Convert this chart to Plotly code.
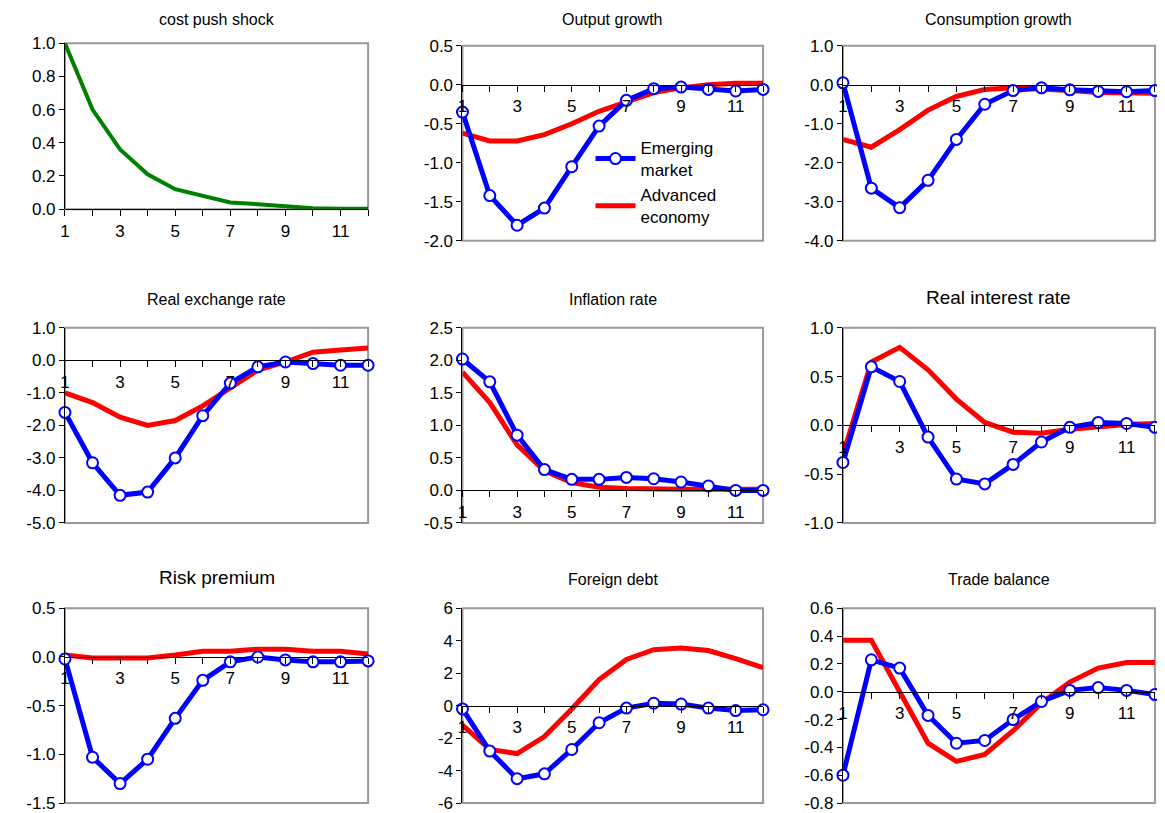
import plotly.graph_objects as go

periods = list(range(1, 13))
tick_text = [str(p) if p % 2 else "" for p in periods]

cost_push = [1.0, 0.6, 0.36, 0.21, 0.12, 0.08, 0.04, 0.03, 0.02, 0.005, 0.003, 0.002]

output_em = [-0.35, -1.42, -1.8, -1.58, -1.05, -0.53, -0.2, -0.05, -0.03, -0.06, -0.08, -0.06]
output_ae = [-0.62, -0.72, -0.72, -0.64, -0.5, -0.34, -0.22, -0.1, -0.04, 0.0, 0.02, 0.02]
cons_em = [0.05, -2.65, -3.15, -2.45, -1.4, -0.5, -0.15, -0.08, -0.13, -0.17, -0.18, -0.15]
cons_ae = [-1.4, -1.6, -1.15, -0.65, -0.3, -0.12, -0.08, -0.1, -0.15, -0.2, -0.22, -0.22]
rer_em = [-1.6, -3.15, -4.15, -4.05, -3.0, -1.7, -0.7, -0.2, -0.05, -0.1, -0.15, -0.15]
rer_ae = [-1.0, -1.3, -1.75, -2.0, -1.85, -1.4, -0.85, -0.3, -0.05, 0.25, 0.32, 0.38]
infl_em = [2.02, 1.67, 0.85, 0.32, 0.17, 0.17, 0.2, 0.18, 0.13, 0.07, 0.0, 0.0]
infl_ae = [1.82, 1.35, 0.7, 0.3, 0.12, 0.05, 0.03, 0.02, 0.02, 0.02, 0.02, 0.02]
rir_em = [-0.38, 0.6, 0.45, -0.12, -0.55, -0.6, -0.4, -0.17, -0.02, 0.03, 0.02, -0.02]
rir_ae = [-0.3, 0.65, 0.8, 0.57, 0.27, 0.03, -0.07, -0.08, -0.04, -0.01, 0.01, 0.02]
risk_em = [-0.02, -1.03, -1.3, -1.05, -0.63, -0.24, -0.05, 0.0, -0.03, -0.05, -0.05, -0.04]
risk_ae = [0.02, -0.01, -0.01, -0.01, 0.02, 0.06, 0.06, 0.08, 0.08, 0.06, 0.06, 0.03]
debt_em = [-0.2, -2.8, -4.5, -4.2, -2.7, -1.05, -0.15, 0.15, 0.1, -0.15, -0.3, -0.25]
debt_ae = [-1.2, -2.7, -2.95, -1.9, -0.2, 1.6, 2.85, 3.45, 3.55, 3.4, 2.9, 2.35]
trade_em = [-0.6, 0.23, 0.17, -0.17, -0.37, -0.35, -0.2, -0.07, 0.01, 0.03, 0.01, -0.02]
trade_ae = [0.37, 0.37, 0.0, -0.37, -0.5, -0.45, -0.28, -0.08, 0.07, 0.17, 0.21, 0.21]

# title, em, ae, y range, dtick, decimals, title size
panels = [
    ("cost push shock", None, cost_push, (0, 1), 0.2, 1, 16),
    ("Output growth", output_em, output_ae, (-2, 0.5), 0.5, 1, 16),
    ("Consumption growth", cons_em, cons_ae, (-4, 1), 1, 1, 16),
    ("Real exchange rate", rer_em, rer_ae, (-5, 1), 1, 1, 16),
    ("Inflation rate", infl_em, infl_ae, (-0.5, 2.5), 0.5, 1, 16),
    ("Real interest rate", rir_em, rir_ae, (-1, 1), 0.5, 1, 19),
    ("Risk premium", risk_em, risk_ae, (-1.5, 0.5), 0.5, 1, 19),
    ("Foreign debt", debt_em, debt_ae, (-6, 6), 2, 0, 16),
    ("Trade balance", trade_em, trade_ae, (-0.8, 0.6), 0.2, 1, 16),
]

# page body adds an offset of about 8px, domains are compensated for it
dx, dy = 0.0069, 0.0086
col_dom = [(0.0558 - dx, 0.316 - dx), (0.397 - dx, 0.655 - dx), (0.7236 - dx, 0.9914 - dx)]
row_dom = [(0.705 + dy, 0.945 + dy), (0.358 + dy, 0.598 + dy), (0.0135 + dy, 0.253 + dy)]

font = "Liberation Sans, Arial, sans-serif"
fig = go.Figure()
layout = {}
shapes = []
annotations = []

for i, (title, em, ae, yr, dt, dec, tsize) in enumerate(panels):
    r, c = divmod(i, 3)
    n = "" if i == 0 else str(i + 1)
    xd = col_dom[c]
    yd = (0.744 + dy, 0.948 + dy) if i == 0 else row_dom[r]
    pos = yd[0] + (0 - yr[0]) / (yr[1] - yr[0]) * (yd[1] - yd[0])
    steps = round((yr[1] - yr[0]) / dt)
    yvals = [round(yr[0] + k * dt, 6) for k in range(steps + 1)]
    ytext = [f"{v:.{dec}f}" for v in yvals]
    layout["xaxis" + n] = dict(
        domain=xd, range=[1, 12], anchor="free", position=pos, automargin=False,
        tickvals=periods, ticktext=tick_text, ticks="outside", ticklen=6,
        tickcolor="black", showline=True, linecolor="black", linewidth=1,
        showgrid=False, zeroline=False, tickfont=dict(size=17, family=font, color="black"),
    )
    layout["yaxis" + n] = dict(
        domain=yd, range=list(yr), tickvals=yvals, ticktext=ytext, anchor="x" + n,
        automargin=False, ticks="outside", ticklen=5, tickcolor="black", showline=True,
        linecolor="black", showgrid=False, zeroline=False,
        tickfont=dict(size=17, family=font, color="black"),
    )
    shapes.append(dict(type="rect", xref="x%s domain" % n, yref="y%s domain" % n,
                       x0=0, x1=1, y0=0, y1=1, line=dict(color="#999999", width=2), layer="below"))
    top = 0.948 + dy - 0.006 if r == 0 else yd[1]
    annotations.append(dict(text=title, x=(xd[0] + xd[1]) / 2, y=top + 0.022,
                            xref="paper", yref="paper", xanchor="center", yanchor="bottom",
                            showarrow=False, font=dict(size=tsize, family=font, color="black")))
    if em is None:
        fig.add_trace(go.Scatter(x=periods, y=ae, mode="lines", line=dict(color="#008000", width=4),
                                 xaxis="x" + n, yaxis="y" + n, showlegend=False, cliponaxis=False))
        continue
    fig.add_trace(go.Scatter(x=periods, y=ae, mode="lines", name="Advanced<br>economy",
                             line=dict(color="#ff0000", width=5),
                             xaxis="x" + n, yaxis="y" + n, showlegend=(i == 1), cliponaxis=False))
    fig.add_trace(go.Scatter(x=periods, y=em, mode="lines+markers", name="Emerging<br>market",
                             line=dict(color="#0000ff", width=5),
                             marker=dict(size=11, color="white", line=dict(color="#0000ff", width=2)),
                             xaxis="x" + n, yaxis="y" + n, showlegend=(i == 1), cliponaxis=False))

fig.update_layout(
    **layout, shapes=shapes, annotations=annotations,
    width=1165, height=813, margin=dict(l=0, r=0, t=0, b=0),
    plot_bgcolor="white", paper_bgcolor="white",
    legend=dict(x=0.5, y=0.85, xanchor="left", yanchor="top", bgcolor="rgba(0,0,0,0)",
                font=dict(size=17, family=font, color="black"), traceorder="reversed",
                tracegroupgap=0, itemwidth=40),
)
fig.write_html("out.html")
